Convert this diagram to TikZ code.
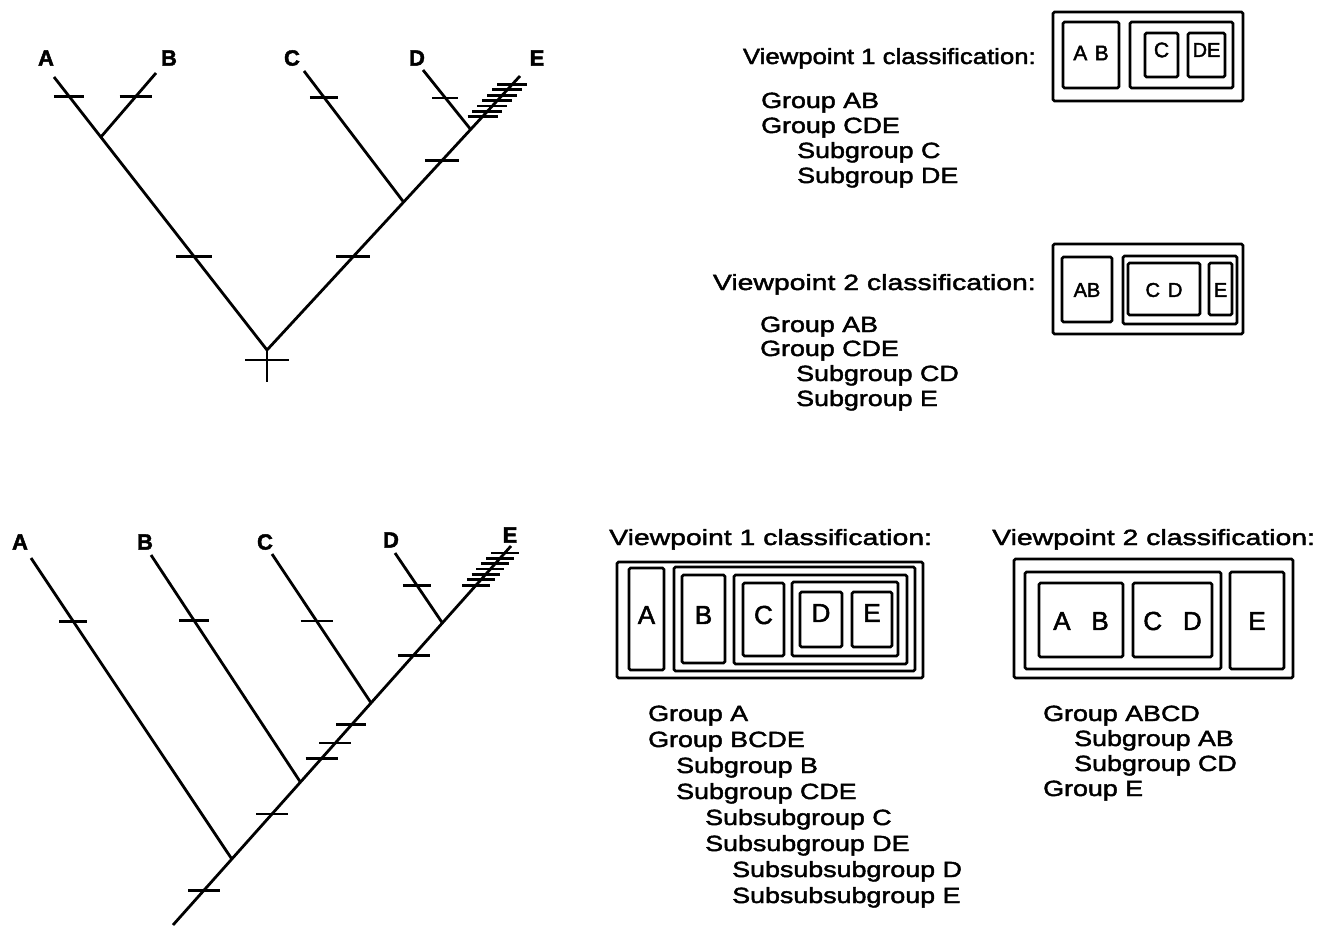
\documentclass[tikz,border=0pt]{standalone}
\usepackage{fontspec}
\setmainfont{Liberation Sans}[FakeBold=2]
\newfontfamily\vpfont{Liberation Sans}[FakeStretch=1.22, FakeBold=2]
\newfontfamily\hdfont{Liberation Sans}[FakeStretch=1.29, FakeBold=2]
\newfontfamily\hdnarrow{Liberation Sans}[FakeStretch=1.17, FakeBold=2]
\usetikzlibrary{calc}

\tikzset{
  % --- tree
  br/.style  = {line width=2.8pt},
  tk/.style  = {line width=2.8pt},
  lab/.style = {font=\fontsize{22}{22}\selectfont\bfseries, inner sep=0pt},
  % --- classification boxes
  bx/.style  = {line width=2.6pt, rounded corners=1.5pt},
  bl/.style  = {inner sep=0pt},
  % --- text lists
  txt/.style = {font=\fontsize{22}{22}\vpfont, anchor=base west, inner sep=0pt},
  hd/.style  = {txt, font=\fontsize{22}{22}\hdfont},
}

\begin{document}
\begin{tikzpicture}[x=1pt,y=-1pt]
  \useasboundingbox (0,0) rectangle (1326,927);

  % upper tree
  \coordinate (rt) at (267,350);
  \coordinate (sb) at (267,382);
  \coordinate (tA) at (54,77);
  \coordinate (tB) at (156,73);
  \coordinate (tC) at (304,71);
  \coordinate (tD) at (423,70);
  \coordinate (tE) at (520,76);
  \coordinate (jAB)  at ($(rt)!.78!(tA)$);
  \coordinate (jCDE) at ($(rt)!.54!(tE)$);
  \coordinate (jDE)  at ($(rt)!.805!(tE)$);
  \draw[br] (tA) -- (rt) -- (tE);
  \draw[br] (tB) -- (jAB);
  \draw[br] (tC) -- (jCDE);
  \draw[br] (tD) -- (jDE);
  \draw[br] (rt) -- (sb);
  \foreach \p/\q/\f/\w in {tA/jAB/.32/15, tB/jAB/.37/16, rt/tA/.343/18, rt/tE/.34/17,
                           tC/jCDE/.2/14, tD/jDE/.47/13, jCDE/jDE/.57/17}
    \draw[tk] ($(\p)!\f!(\q)$) +(-\w,0) -- +(\w,0);
  \draw[tk] ($(rt)+(0,10)$) +(-22,0) -- +(22,0);
  \foreach \f in {.24,.34,.44,.54,.64,.74,.84}
    \draw[tk] ($(jDE)!\f!(tE)$) +(-15,0) -- +(15,0);
  \node[lab] (lA) at (46,58)  {A};
  \node[lab] (lB) at (169,58) {B};
  \node[lab] (lC) at (292,58) {C};
  \node[lab] (lD) at (417,58) {D};
  \node[lab] (lE) at (537,58) {E};

  % upper right, viewpoint 1
  \node[hd, font=\fontsize{22}{22}\hdnarrow, anchor=base east] (h1) at (1036,64) {Viewpoint 1 classification:};
  \node[txt] (a1) at (761,108) {Group AB};
  \node[txt] (a2) at (761,133) {Group CDE};
  \node[txt] (a3) at (797,158) {Subgroup C};
  \node[txt] (a4) at (797,183) {Subgroup DE};
  \draw[bx] (1053,12) rectangle (1243,101);
  \draw[bx] (1063,22) rectangle (1119,88);
  \draw[bx] (1130,22) rectangle (1233,88);
  \draw[bx] (1145,33) rectangle (1178,77);
  \draw[bx] (1188,33) rectangle (1225,77);
  \node[bl, font=\fontsize{21}{21}\selectfont] (v1ab) at (1091,53) {A\hspace{0.35em}B};
  \node[bl, font=\fontsize{21}{21}\selectfont] (v1c)  at (1161.5,50) {C};
  \node[bl, font=\fontsize{20}{20}\selectfont] (v1de) at (1206.5,50) {DE};

  % upper right, viewpoint 2
  \node[hd, anchor=base east] (h2) at (1036,290) {Viewpoint 2 classification:};
  \node[txt] (b1) at (760,332) {Group AB};
  \node[txt] (b2) at (760,356) {Group CDE};
  \node[txt] (b3) at (796,381) {Subgroup CD};
  \node[txt] (b4) at (796,406) {Subgroup E};
  \draw[bx] (1053,244) rectangle (1243,334);
  \draw[bx] (1062,257) rectangle (1112,322);
  \draw[bx] (1123,256) rectangle (1237,324);
  \draw[bx] (1128,263) rectangle (1200,315);
  \draw[bx] (1209,263) rectangle (1232,315);
  \node[bl, font=\fontsize{20}{20}\selectfont] (v2ab) at (1087,290) {AB};
  \node[bl, font=\fontsize{20}{20}\selectfont] (v2cd) at (1164,290) {C\hspace{0.4em}D};
  \node[bl, font=\fontsize{20}{20}\selectfont] (v2e)  at (1220.5,290) {E};

  % lower tree
  \coordinate (ub) at (173,925);
  \coordinate (uA) at (31,558);
  \coordinate (uB) at (151,555);
  \coordinate (uC) at (272,554);
  \coordinate (uD) at (395,553);
  \coordinate (uE) at (511,546);
  \coordinate (kA) at ($(ub)!.174!(uE)$);
  \coordinate (kB) at ($(ub)!.377!(uE)$);
  \coordinate (kC) at ($(ub)!.586!(uE)$);
  \coordinate (kD) at ($(ub)!.797!(uE)$);
  \draw[br] (ub) -- (uE);
  \draw[br] (uA) -- (kA);
  \draw[br] (uB) -- (kB);
  \draw[br] (uC) -- (kC);
  \draw[br] (uD) -- (kD);
  \foreach \p/\q/\f/\w in {uA/kA/.21/14, uB/kB/.29/15, uC/kC/.45/16, uD/kD/.46/14,
                           ub/uE/.092/16, ub/uE/.293/16, ub/uE/.44/16, ub/uE/.48/16,
                           ub/uE/.528/15, ub/uE/.712/16}
    \draw[tk] ($(\p)!\f!(\q)$) +(-\w,0) -- +(\w,0);
  \foreach \f in {.49,.56,.63,.70,.77,.84,.91}
    \draw[tk] ($(kD)!\f!(uE)$) +(-14,0) -- +(14,0);
  \node[lab] (mA) at (20,542)  {A};
  \node[lab] (mB) at (145,542) {B};
  \node[lab] (mC) at (265,542) {C};
  \node[lab] (mD) at (391,540) {D};
  \node[lab] (mE) at (510,535) {E};

  % lower middle, viewpoint 1
  \node[hd] (h3) at (609,545) {Viewpoint 1 classification:};
  \draw[bx] (617,562) rectangle (923,678);
  \draw[bx] (629,568) rectangle (664,670);
  \draw[bx] (674,567) rectangle (915,671);
  \draw[bx] (682,575) rectangle (725,663);
  \draw[bx] (734,575) rectangle (907,664);
  \draw[bx] (743,583) rectangle (784,656);
  \draw[bx] (792,582) rectangle (898,656);
  \draw[bx] (800,592) rectangle (842,647);
  \draw[bx] (852,592) rectangle (892,647);
  \node[bl, font=\fontsize{26}{26}\selectfont] (w1a) at (646.5,615) {A};
  \node[bl, font=\fontsize{26}{26}\selectfont] (w1b) at (703.5,615) {B};
  \node[bl, font=\fontsize{26}{26}\selectfont] (w1c) at (763.5,615) {C};
  \node[bl, font=\fontsize{26}{26}\selectfont] (w1d) at (821,613) {D};
  \node[bl, font=\fontsize{26}{26}\selectfont] (w1e) at (872,613) {E};
  \node[txt] (c1) at (648,721) {Group A};
  \node[txt] (c2) at (648,747) {Group BCDE};
  \node[txt] (c3) at (676,773) {Subgroup B};
  \node[txt] (c4) at (676,799) {Subgroup CDE};
  \node[txt] (c5) at (705,825) {Subsubgroup C};
  \node[txt] (c6) at (705,851) {Subsubgroup DE};
  \node[txt] (c7) at (732,877) {Subsubsubgroup D};
  \node[txt] (c8) at (732,903) {Subsubsubgroup E};

  % lower right, viewpoint 2
  \node[hd] (h4) at (992,545) {Viewpoint 2 classification:};
  \draw[bx] (1014,559) rectangle (1293,678);
  \draw[bx] (1025,572) rectangle (1221,669);
  \draw[bx] (1039,583) rectangle (1123,657);
  \draw[bx] (1133,583) rectangle (1212,657);
  \draw[bx] (1230,572) rectangle (1284,669);
  \node[bl, font=\fontsize{26}{26}\selectfont] (w2ab) at (1081,621) {A\hspace{0.8em}B};
  \node[bl, font=\fontsize{26}{26}\selectfont] (w2cd) at (1172.5,621) {C\hspace{0.8em}D};
  \node[bl, font=\fontsize{26}{26}\selectfont] (w2e)  at (1257,621) {E};
  \node[txt] (d1) at (1043,721) {Group ABCD};
  \node[txt] (d2) at (1074,746) {Subgroup AB};
  \node[txt] (d3) at (1074,771) {Subgroup CD};
  \node[txt] (d4) at (1043,796) {Group E};
\end{tikzpicture}
\end{document}
